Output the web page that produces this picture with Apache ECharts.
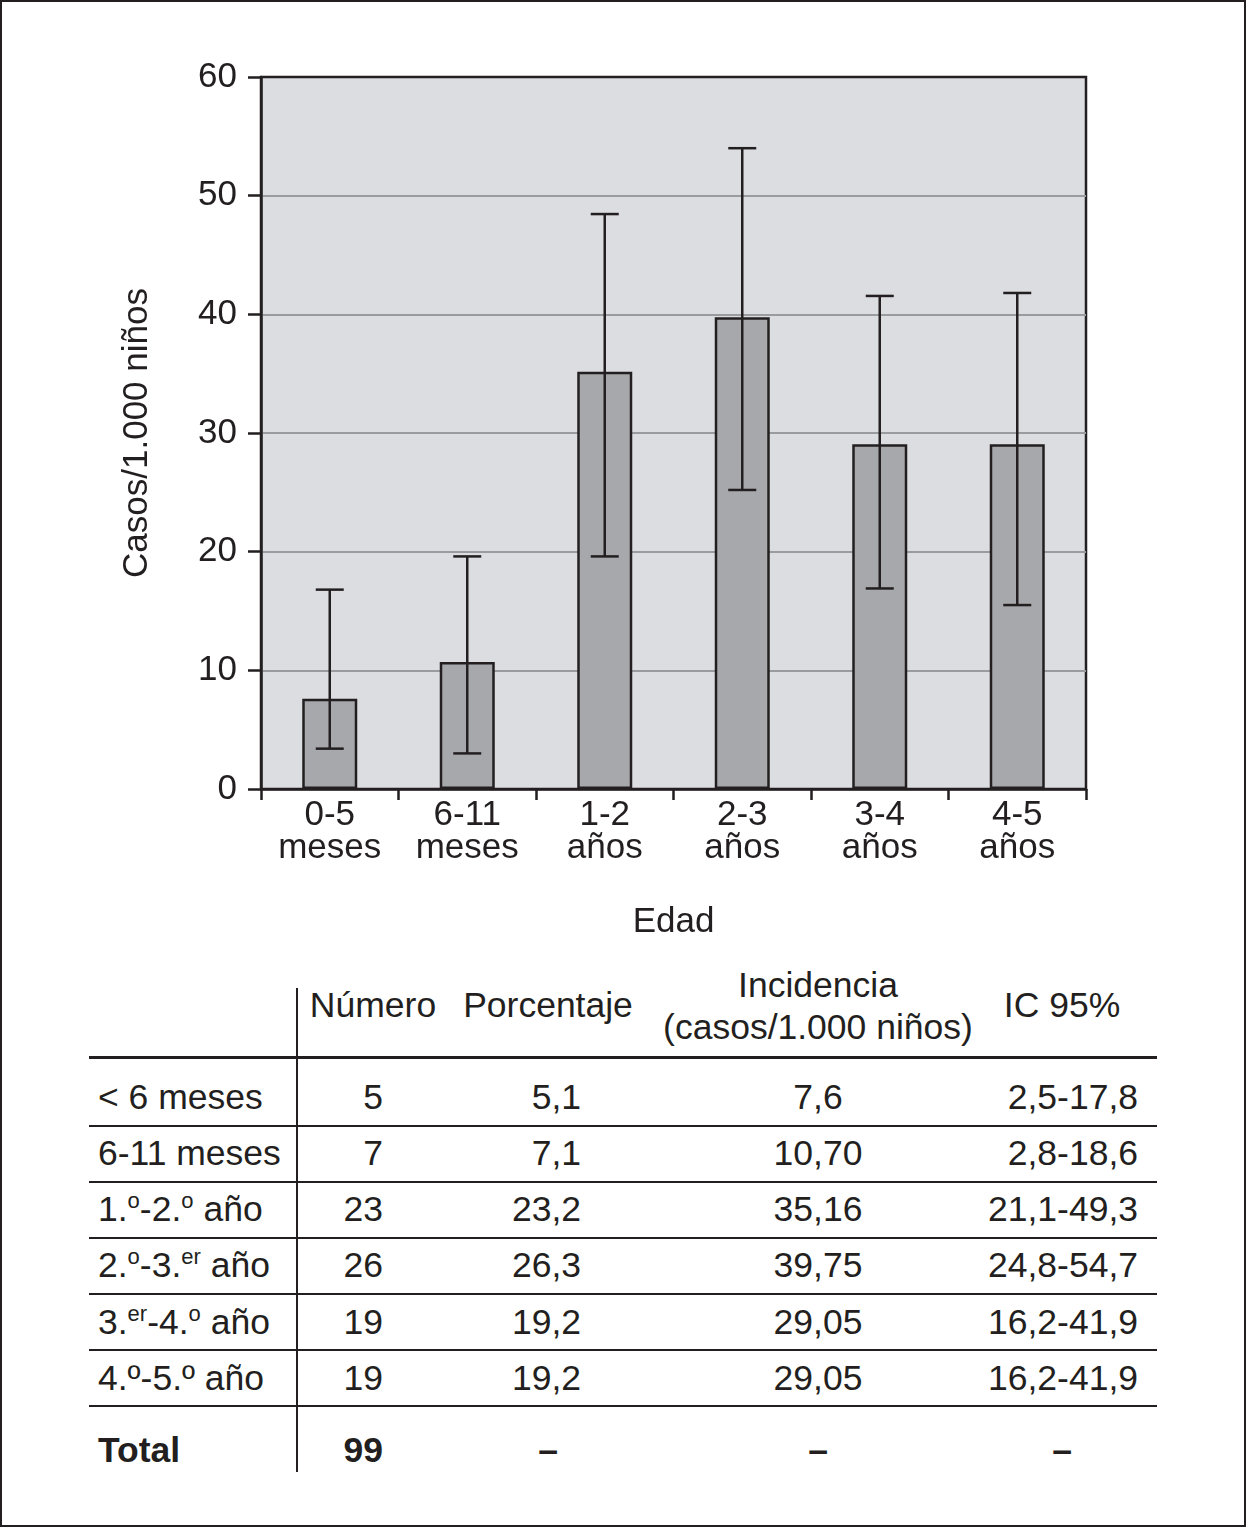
<!DOCTYPE html>
<html>
<head>
<meta charset="utf-8">
<script src="https://cdn.jsdelivr.net/npm/echarts@6/dist/echarts.min.js"></script>
<style>
  html, body { margin: 0; padding: 0; background: #fff; }
  body { width: 1246px; height: 1527px; position: relative; overflow: hidden;
         font-family: "Liberation Sans", Arial, sans-serif; color: #231f20; }
  #chart { position: absolute; left: 0; top: 0; width: 1246px; height: 960px; }
  #frame { position: absolute; left: 0; top: 0; width: 1242px; height: 1523px;
           border: 2px solid #231f20; pointer-events: none; }
  .cell { position: absolute; font-size: 35.5px; white-space: nowrap; height: 44px; line-height: 44px; }
  .cell sup { font-size: 62%; vertical-align: 0; position: relative; top: -0.6em; line-height: 0; }
  .hl { position: absolute; background: #231f20; }
  .b { font-weight: bold; }
</style>
</head>
<body>
<div id="chart"></div>
<div id="table"></div>
<div id="frame"></div>
<script>
// ---- chart data ----
const categories = ['0-5\nmeses', '6-11\nmeses', '1-2\naños', '2-3\naños', '3-4\naños', '4-5\naños'];
const incidence = [7.6, 10.7, 35.16, 39.75, 29.05, 29.05];
const ciLow  = [3.4, 3.0, 19.6, 25.2, 16.9, 15.5];
const ciHigh = [16.8, 19.6, 48.45, 54.0, 41.55, 41.8];
const yTicks = [0, 10, 20, 30, 40, 50, 60];

// ---- table data ----
const rowLabels = ['&lt; 6 meses', '6-11 meses', '1.<sup>o</sup>-2.<sup>o</sup> año',
  '2.<sup>o</sup>-3.<sup>er</sup> año', '3.<sup>er</sup>-4.<sup>o</sup> año', '4.º-5.º año'];
const numero = ['5', '7', '23', '26', '19', '19'];
const porcentaje = ['5,1', '7,1', '23,2', '26,3', '19,2', '19,2'];
const incidenciaTxt = ['7,6', '10,70', '35,16', '39,75', '29,05', '29,05'];
const ic95 = ['2,5-17,8', '2,8-18,6', '21,1-49,3', '24,8-54,7', '16,2-41,9', '16,2-41,9'];
const totalRow = ['Total', '99', '–', '–', '–'];
const headers = ['Número', 'Porcentaje', 'Incidencia', '(casos/1.000 niños)', 'IC 95%'];

const ink = '#231f20';
const chart = echarts.init(document.getElementById('chart'), null, { renderer: 'canvas' });
const errData = categories.map((c, i) => [i, ciLow[i], ciHigh[i]]);

chart.setOption({
  animation: false,
  textStyle: { fontFamily: 'Liberation Sans, Arial, sans-serif', color: ink },
  grid: { left: 261, top: 77, width: 825, height: 712, show: true,
          backgroundColor: '#dcdde0', borderColor: ink, borderWidth: 2.5 },
  xAxis: {
    type: 'category', data: categories,
    name: 'Edad', nameLocation: 'middle', nameGap: 116,
    nameTextStyle: { fontSize: 35, color: ink },
    axisLine: { lineStyle: { color: ink, width: 2.5 } },
    axisTick: { show: true, length: 11, lineStyle: { color: ink, width: 2.5 } },
    axisLabel: { fontSize: 35, color: ink, lineHeight: 33, margin: 10 },
    splitLine: { show: false }
  },
  yAxis: {
    type: 'value', min: yTicks[0], max: yTicks[yTicks.length - 1], interval: 10,
    name: 'Casos/1.000 niños', nameLocation: 'middle', nameGap: 106, nameRotate: 90,
    nameTextStyle: { fontSize: 35, color: ink },
    axisLine: { show: true, lineStyle: { color: ink, width: 2.5 } },
    axisTick: { show: true, length: 13, lineStyle: { color: ink, width: 2.5 } },
    axisLabel: { fontSize: 35, color: ink, margin: 24 },
    splitLine: { show: true, showMaxLine: false, showMinLine: false,
                 lineStyle: { color: '#9a9b9e', width: 2 } }
  },
  series: [
    {
      type: 'bar', data: incidence, barWidth: 55,
      itemStyle: { color: '#a7a8ab', borderColor: ink, borderWidth: 2.5 },
      z: 2
    },
    {
      type: 'custom', data: errData, z: 3,
      renderItem: function (params, api) {
        const x = api.value(0);
        const lo = api.coord([x, api.value(1)]);
        const hi = api.coord([x, api.value(2)]);
        const hw = 14;
        const st = { stroke: ink, lineWidth: 2.5 };
        return { type: 'group', children: [
          { type: 'line', shape: { x1: lo[0], y1: lo[1], x2: hi[0], y2: hi[1] }, style: st },
          { type: 'line', shape: { x1: hi[0] - hw, y1: hi[1], x2: hi[0] + hw, y2: hi[1] }, style: st },
          { type: 'line', shape: { x1: lo[0] - hw, y1: lo[1], x2: lo[0] + hw, y2: lo[1] }, style: st }
        ]};
      }
    }
  ]
});

// ---- table (HTML) ----
const tbl = document.getElementById('table');
function cell(html, x, cy, align, cls) {
  const d = document.createElement('div');
  d.className = 'cell' + (cls ? ' ' + cls : '');
  d.innerHTML = html;
  d.style.top = (cy - 22) + 'px';
  if (align === 'left') { d.style.left = x + 'px'; }
  else if (align === 'right') { d.style.right = (1246 - x) + 'px'; }
  else { d.style.left = (x - 300) + 'px'; d.style.width = '600px'; d.style.textAlign = 'center'; }
  tbl.appendChild(d);
}
function hline(y, h) {
  const d = document.createElement('div');
  d.className = 'hl';
  d.style.left = '89px'; d.style.width = '1068px';
  d.style.top = (y - h / 2) + 'px'; d.style.height = h + 'px';
  tbl.appendChild(d);
}
// header
cell(headers[0], 373, 1005, 'center');
cell(headers[1], 548, 1005, 'center');
cell(headers[2], 818, 985, 'center');
cell(headers[3], 818, 1027, 'center');
cell(headers[4], 1062, 1005, 'center');
// lines
hline(1057.5, 3);
const lineYs = [1125.5, 1181.5, 1237.5, 1293.5, 1349.5, 1406];
lineYs.forEach(y => hline(y, 2));
const v = document.createElement('div');
v.className = 'hl';
v.style.left = '296px'; v.style.width = '2px'; v.style.top = '988px'; v.style.height = '484px';
tbl.appendChild(v);
// rows
const rowCY = [1097, 1153, 1209, 1265, 1322, 1378];
rowLabels.forEach((lab, i) => {
  const cy = rowCY[i];
  cell(lab, 98, cy, 'left');
  cell(numero[i], 383, cy, 'right');
  cell(porcentaje[i], 581, cy, 'right');
  cell(incidenciaTxt[i], 818, cy, 'center');
  cell(ic95[i], 1138, cy, 'right');
});
// total
cell(totalRow[0], 98, 1450, 'left', 'b');
cell(totalRow[1], 383, 1450, 'right', 'b');
cell(totalRow[2], 548, 1450, 'center', 'b');
cell(totalRow[3], 818, 1450, 'center', 'b');
cell(totalRow[4], 1062, 1450, 'center', 'b');
</script>
</body>
</html>
